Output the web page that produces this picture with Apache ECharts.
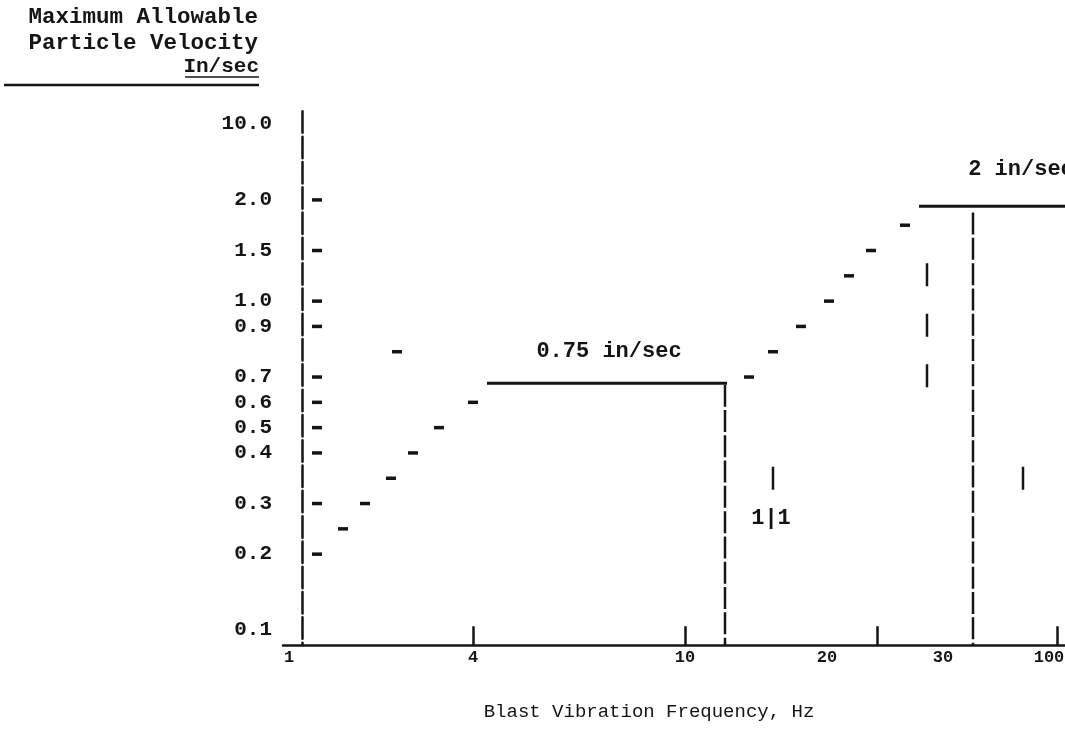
<!DOCTYPE html>
<html><head><meta charset="utf-8">
<script src="https://cdn.jsdelivr.net/npm/echarts@6/dist/echarts.min.js"></script>
<style>html,body{margin:0;padding:0;background:#fff}#c{width:1065px;height:744px}</style>
</head><body><div id="c"></div>
<script>
// Typed rows of the velocity axis, top to bottom (in/sec); '' = blank row
const rowLabels = ['10.0','','','2.0','','1.5','','1.0','0.9','','0.7','0.6','0.5','0.4','','0.3','','0.2','','','0.1'];
const rowDashRows = [3,5,7,8,10,11,12,13,15,17];
// Frequency axis (typed columns)
const NCOLS = 392;
const xLabelText = ['1','4','10','20','30','100'];
const xLabelCols = [3,95,201,272,330,383];
const xTickCols = [95,201,297,387];
// Plotted marks as [column, row]
const leftSteps = [[30,16],[41,15],[54,14],[65,13],[78,12],[95,11],[57,9]];
const rightSteps = [[233,10],[245,9],[259,8],[273,7],[283,6],[294,5],[311,4]];
const limit075 = [[102,10.25],[222,10.25]];
const limit2 = [[318,3.25],[391,3.25]];
const drop11 = [[221,10.3],[221,20.6]];
const drop30 = [[345,3.5],[345,20.6]];
const brokenMark = [[322,5.5],[322,10.4]];
const barMarks = [[245,14],[370,14]];
const noteText = ['0.75 in/sec','2 in/sec','1|1'];
const notePos = [[163,9],[369,1.8],[244,15.6]];

const INK = '#151515';
const FONT = '"Liberation Mono", "DejaVu Sans Mono", monospace';
const labelMap = {};
xLabelCols.forEach((c,i)=>{ labelMap[String(c)] = xLabelText[i]; });

const chart = echarts.init(document.getElementById('c'), null, {renderer:'canvas'});
const dashStyle = {symbol:'rect', symbolSize:[10,3.5], itemStyle:{color:INK, opacity:1}};
chart.setOption({
  animation:false,
  backgroundColor:'#fff',
  grid:{left:283, right:0, top:111.35, height:533.9, containLabel:false, outerBoundsMode:'none'},
  xAxis:{
    type:'category', boundaryGap:false,
    data:Array.from({length:NCOLS},(_,i)=>String(i)),
    axisLine:{onZero:false, lineStyle:{color:INK, width:2.5}},
    axisTick:{show:true, inside:true, length:19, interval:(i)=>xTickCols.includes(i), lineStyle:{color:INK, width:2.5}},
    axisLabel:{interval:(i)=>xLabelCols.includes(i), formatter:(v)=>labelMap[v]||'', margin:4,
      color:INK, fontFamily:FONT, fontWeight:'bold', fontSize:17},
    splitLine:{show:false},
    name:'Blast Vibration Frequency, Hz', nameLocation:'middle', nameGap:57,
    nameTextStyle:{color:INK, fontFamily:FONT, fontSize:19, padding:[0,50,0,0]}
  },
  yAxis:{
    type:'value', inverse:true, min:-0.5, max:20.6, interval:0.5, offset:-19,
    axisLine:{show:true, lineStyle:{color:INK, width:2.5, type:[21.5,3.8]}},
    axisTick:{show:false}, splitLine:{show:false},
    axisLabel:{margin:30, color:INK, fontFamily:FONT, fontWeight:'bold', fontSize:21,
      formatter:(v)=>{const r=Math.round(v*2)/2; return (Number.isInteger(r)&&r>=0&&r<rowLabels.length)?rowLabels[r]:'';}}
  },
  graphic:[
    {type:'text', style:{text:'Maximum Allowable', x:258, y:17, align:'right', verticalAlign:'middle', fill:INK, font:'bold 22.5px '+FONT}},
    {type:'text', style:{text:'Particle Velocity', x:258, y:43, align:'right', verticalAlign:'middle', fill:INK, font:'bold 22.5px '+FONT}},
    {type:'text', style:{text:'In/sec', x:259, y:67, align:'right', verticalAlign:'middle', fill:INK, font:'bold 21px '+FONT}},
    {type:'line', shape:{x1:185, y1:77, x2:259, y2:77}, style:{stroke:INK, lineWidth:1.5}},
    {type:'line', shape:{x1:4, y1:85, x2:259, y2:85}, style:{stroke:INK, lineWidth:2.5}}
  ],
  series:[
    Object.assign({type:'scatter', name:'axis dashes', data:rowDashRows.map(r=>[17,r])}, dashStyle),
    Object.assign({type:'scatter', name:'left steps', data:leftSteps}, dashStyle),
    Object.assign({type:'scatter', name:'right steps', data:rightSteps}, dashStyle),
    {type:'line', name:'0.75', data:limit075, symbol:'none', lineStyle:{color:INK, width:3}},
    {type:'line', name:'2', data:limit2, symbol:'none', lineStyle:{color:INK, width:3}},
    {type:'line', name:'drop11', data:drop11, symbol:'none', lineStyle:{color:INK, width:2.5, type:[22,3.3]}},
    {type:'line', name:'drop30', data:drop30, symbol:'none', lineStyle:{color:INK, width:2.5, type:[22,3.3]}},
    {type:'line', name:'broken', data:brokenMark, symbol:'none', lineStyle:{color:INK, width:2.5, type:[23,27.6]}},
    {type:'scatter', name:'bars', data:barMarks, symbol:'rect', symbolSize:[2.5,23], itemStyle:{color:INK, opacity:1}},
    {type:'scatter', name:'notes', symbolSize:0, itemStyle:{opacity:1},
      data:notePos.map((p,i)=>({value:p, name:noteText[i]})),
      label:{show:true, position:'inside', formatter:(p)=>p.name, color:INK, fontFamily:FONT, fontWeight:'bold', fontSize:22}}
  ]
});
</script></body></html>
